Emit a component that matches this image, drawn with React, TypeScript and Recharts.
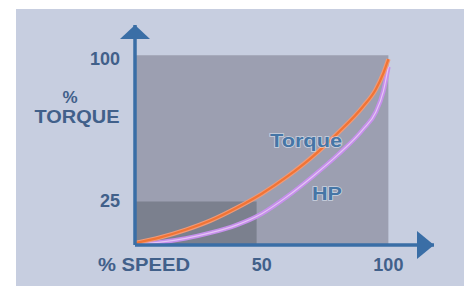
import React from 'react';
import { ComposedChart, Line, XAxis, YAxis, ReferenceArea, ReferenceDot } from 'recharts';

// % speed samples and curves
const speed = [0, 10, 20, 30, 40, 50, 60, 70, 80, 90, 95, 98, 100];
const torque = [1, 4, 8, 13, 19.5, 27, 36, 46.5, 59, 73, 82, 90.5, 98];
const hp = [0.5, 1.5, 3.5, 6.5, 10.5, 16.5, 25.5, 36, 47.5, 61, 70, 81, 94];

const xTicks = [50, 100];
const yTicks = [25, 100];
const xAxisEnd = 118;
const yAxisEnd = 116;
const fullBox = { x: 100, y: 100 };
const lowBox = { x: 48, y: 23 };

const data = speed.map((s, i) => ({ speed: s, torque: torque[i], hp: hp[i] }));

const FONT = '"Liberation Sans", Arial, sans-serif';
const TEXT = '#41608a';
const AXIS = '#3a6ea6';

const tickStyle: React.CSSProperties = { fontFamily: FONT, fontWeight: 700, fontSize: 18, fill: TEXT };
const curveLabelStyle: React.CSSProperties = {
  fontFamily: FONT, fontWeight: 700, fontSize: 19, fill: '#4676a6',
  stroke: 'rgba(225,235,248,0.7)', strokeWidth: 1.5, paintOrder: 'stroke',
};

const XTick = (p: any) => (
  <text x={p.x} y={p.y} dy="0.71em" textAnchor="middle" style={tickStyle}>
    {p.payload.value}
  </text>
);
const YTick = (p: any) => (
  <text x={p.x} y={p.y + 3} dy="0.355em" textAnchor="end" style={tickStyle}>
    {p.payload.value}
  </text>
);

const UpArrow = (p: any) => (
  <polygon points={`${p.cx},${p.cy} ${p.cx - 15},${p.cy + 14} ${p.cx + 15},${p.cy + 14}`} fill={AXIS} />
);
const RightArrow = (p: any) => (
  <polygon points={`${p.cx},${p.cy} ${p.cx - 17},${p.cy - 14} ${p.cx - 17},${p.cy + 14}`} fill={AXIS} />
);

export default function App() {
  return (
    <div style={{ position: 'absolute', left: 0, top: 0, width: 464, height: 286, background: '#ffffff' }}>
      <div style={{ position: 'absolute', left: 16, top: 9, right: 0, bottom: 0, background: '#c7cee0' }} />
      <div style={{ position: 'absolute', left: 0, top: 0 }}>
        <ComposedChart width={464} height={286} data={data} margin={{ top: 25, right: 30, left: 0, bottom: 0 }}>
          <XAxis
            type="number"
            dataKey="speed"
            domain={[0, xAxisEnd]}
            ticks={xTicks}
            height={41}
            tickLine={false}
            tickMargin={7}
            axisLine={{ stroke: AXIS, strokeWidth: 3.5 }}
            tick={XTick}
          />
          <YAxis
            type="number"
            domain={[0, yAxisEnd]}
            ticks={yTicks}
            width={135}
            tickLine={false}
            tickMargin={9}
            axisLine={{ stroke: AXIS, strokeWidth: 3.5 }}
            tick={YTick}
          />
          <ReferenceArea x1={0} x2={fullBox.x} y1={0} y2={fullBox.y} fill="#9c9fb1" fillOpacity={1} stroke="none" />
          <ReferenceArea x1={0} x2={lowBox.x} y1={0} y2={lowBox.y} fill="#7b808e" fillOpacity={1} stroke="none" />
          <Line type="monotone" dataKey="hp" stroke="#c690ec" strokeWidth={4.5} dot={false} isAnimationActive={false} />
          <Line type="monotone" dataKey="hp" stroke="#eed2f6" strokeWidth={1.2} strokeOpacity={0.8} dot={false} isAnimationActive={false} />
          <Line type="monotone" dataKey="torque" stroke="#f09a78" strokeWidth={4.5} dot={false} isAnimationActive={false} />
          <Line type="monotone" dataKey="torque" stroke="#f27434" strokeWidth={2.2} dot={false} isAnimationActive={false} />
          <ReferenceDot x={0} y={yAxisEnd} r={0} shape={UpArrow} />
          <ReferenceDot x={xAxisEnd} y={0} r={0} shape={RightArrow} />
          <text x={70} y={103} textAnchor="middle" style={{ ...tickStyle, fontSize: 17 }}>%</text>
          <text x={77} y={123} textAnchor="middle" textLength={85} lengthAdjust="spacingAndGlyphs" style={tickStyle}>TORQUE</text>
          <text x={144} y={271} textAnchor="middle" textLength={92} lengthAdjust="spacingAndGlyphs" style={tickStyle}>% SPEED</text>
        </ComposedChart>
      </div>
      <svg width={464} height={286} style={{ position: 'absolute', left: 0, top: 0, pointerEvents: 'none' }}>
        <text x={306} y={147} textAnchor="middle" textLength={72} lengthAdjust="spacingAndGlyphs" style={curveLabelStyle}>Torque</text>
        <text x={327} y={200} textAnchor="middle" textLength={30} lengthAdjust="spacingAndGlyphs" style={curveLabelStyle}>HP</text>
      </svg>
    </div>
  );
}
